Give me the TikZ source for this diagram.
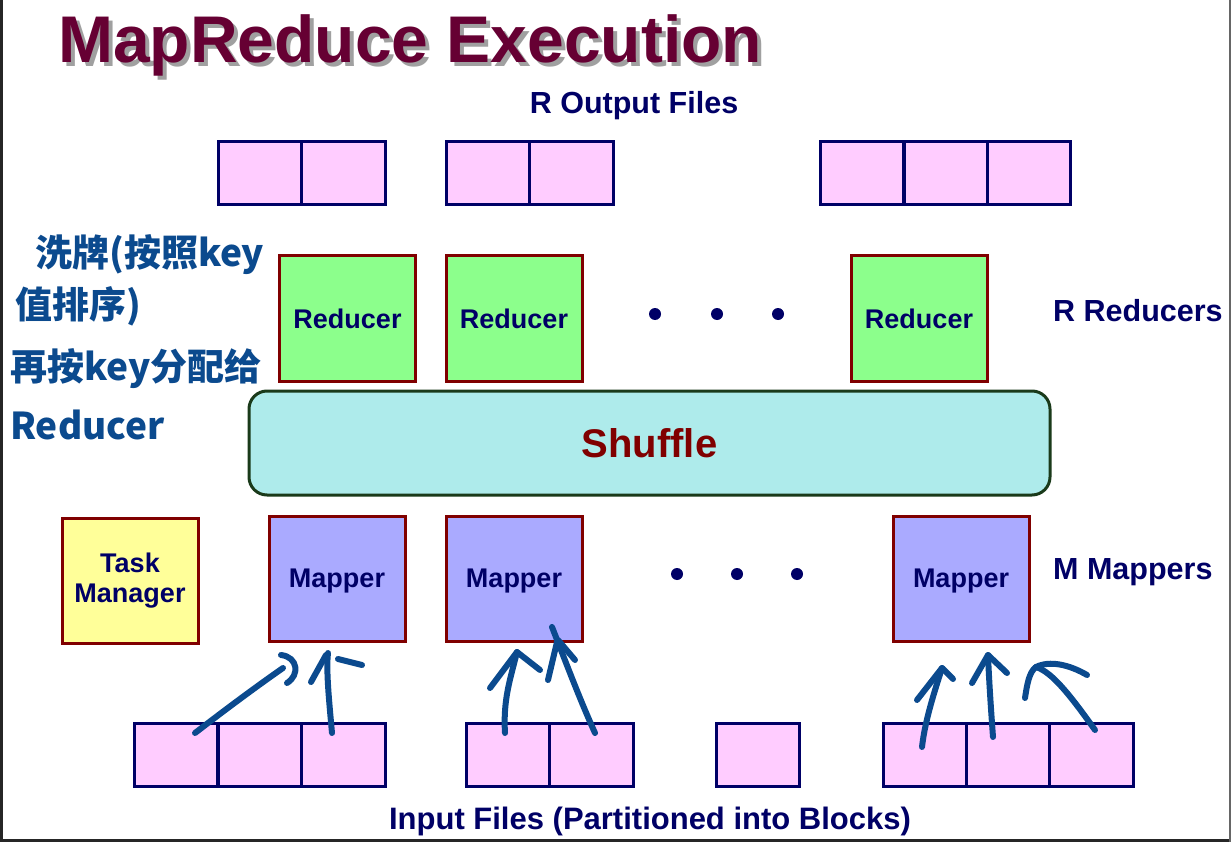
\documentclass[tikz,border=0pt]{standalone}
\usepackage{fontspec}
\setmainfont{Liberation Sans}
\newfontfamily\cjk{Noto Sans CJK SC}
\usetikzlibrary{positioning}

\definecolor{navy}{HTML}{000066}
\definecolor{boxred}{HTML}{800000}
\definecolor{filepink}{HTML}{FFCCFF}
\definecolor{reducegreen}{HTML}{8CFF8C}
\definecolor{mapblue}{HTML}{AAAAFF}
\definecolor{taskyellow}{HTML}{FFFF99}
\definecolor{shufflecyan}{HTML}{AEEBEB}
\definecolor{shuffleedge}{HTML}{1A3A1A}
\definecolor{titlered}{HTML}{660033}
\definecolor{titleshade}{HTML}{A0A0A0}
\definecolor{inkblue}{HTML}{0B4A8E}

\tikzset{
  filecell/.style={draw=navy, fill=filepink, line width=3pt, minimum width=83.5pt, minimum height=63pt, inner sep=0pt},
  worker/.style={draw=boxred, line width=3pt, minimum width=136pt, minimum height=125pt, inner sep=0pt,
    text=navy, align=center, font=\fontsize{27}{30}\selectfont\bfseries},
  sidetext/.style={text=navy, inner sep=0pt, font=\fontsize{30.5}{34}\selectfont\bfseries},
  inktext/.style={text=inkblue, inner sep=0pt, anchor=west, font=\cjk\bfseries\fontsize{37}{40}\selectfont},
  ink/.style={draw=inkblue, line width=6pt, line cap=round, line join=round},
}

\begin{document}
\begin{tikzpicture}[x=1pt,y=-1pt]
    \useasboundingbox (0,0) rectangle (1231,842);
    \fill[white] (0,0) rectangle (1231,842);

    %frame of the screenshot
    \fill[black!85] (0,0) rectangle (3,842);
    \fill[black!85] (0,839) rectangle (1231,842);
    \fill[black!60] (1229,0) rectangle (1231,842);

    %title (with its shadow)
    \node[anchor=base west, inner sep=0pt, text=titleshade, font=\fontsize{66}{70}\selectfont\bfseries] (titleshadow) at (62,67) {MapReduce Execution};
    \node[anchor=base west, inner sep=0pt, text=titlered, font=\fontsize{66}{70}\selectfont\bfseries] (title) at (58,63) {MapReduce Execution};

    %output files
    \node[sidetext] (outlabel) at (634,106) {R Output Files};
    \foreach \n/\x in {o1/260, o2/343.5, o3/488, o4/571.5, o5/862, o6/946, o7/1029}
        \node[filecell] (\n) at (\x,173.5) {};

    %reducers
    \foreach \n/\x in {r1/347.5, r2/514, r3/919}
        \node[worker, fill=reducegreen] (\n) at (\x,318.5) {Reducer};
    \foreach \x in {655,717,778}
        \fill[navy] (\x,314) circle (6pt);
    \node[sidetext, anchor=west] (redlabel) at (1053,311) {R Reducers};

    %shuffle
    \node[draw=shuffleedge, fill=shufflecyan, line width=3pt, rounded corners=18pt, minimum width=801pt, minimum height=104pt,
        text=boxred, font=\fontsize{40}{44}\selectfont\bfseries] (shuffle) at (649.5,443) {Shuffle};

    %mappers
    \node[worker, fill=taskyellow] (task) at (130,581) {Task\\Manager};
    \foreach \n/\x in {m1/337, m2/514, m3/961}
        \node[worker, fill=mapblue, text depth=0pt] (\n) at (\x,578.5) {Mapper};
    \foreach \x in {677,737,797}
        \fill[navy] (\x,574) circle (6pt);
    \node[sidetext, anchor=west] (maplabel) at (1053,572) {M Mappers};

    %input files
    \foreach \n/\x in {i1/176, i2/260, i3/343.5, i4/508.5, i5/591.5, i6/758, i7/925, i8/1008.5, i9/1091.5}
        \node[filecell] (\n) at (\x,755) {};
    \node[sidetext, font=\fontsize{31}{34}\selectfont\bfseries] (inlabel) at (650,821) {Input Files (Partitioned into Blocks)};

    %handwritten notes
    \node[inktext] (note1) at (35,255) {洗牌(按照key};
    \node[inktext] (note2) at (15,306) {值排序)};
    \node[inktext] (note3) at (10,369) {再按key分配给};
    \node[inktext] (note4) at (10,425) {Reducer};

    %handwritten arrows
    \draw[ink] (195,733) .. controls (230,706) and (260,684) .. (283,668);
    \draw[ink] (281,655) .. controls (298,657) and (300,675) .. (287,683);
    \draw[ink] (332,733) .. controls (329,700) and (326,670) .. (328,653);
    \draw[ink] (311,682) -- (326,655);
    \draw[ink] (338,659) -- (362,665);

    \draw[ink] (505,733) .. controls (503,700) and (510,680) .. (517,652);
    \draw[ink] (490,688) -- (517,652) -- (540,670);
    \draw[ink] (595,733) .. controls (580,700) and (565,660) .. (552,627);
    \draw[ink] (548,680) -- (557,642);
    \draw[ink] (558,640) -- (575,660);

    \draw[ink] (922,747) .. controls (925,720) and (935,690) .. (942,668);
    \draw[ink] (917,700) -- (942,668) -- (953,679);
    \draw[ink] (993,737) .. controls (991,710) and (989,680) .. (988,655);
    \draw[ink] (972,683) -- (988,655) -- (1007,673);
    \draw[ink] (1095,730) .. controls (1070,695) and (1052,672) .. (1036,667);
    \draw[ink] (1025,698) .. controls (1027,685) and (1029,672) .. (1036,667);
    \draw[ink] (1036,667) .. controls (1050,660) and (1070,665) .. (1087,675);
\end{tikzpicture}
\end{document}
